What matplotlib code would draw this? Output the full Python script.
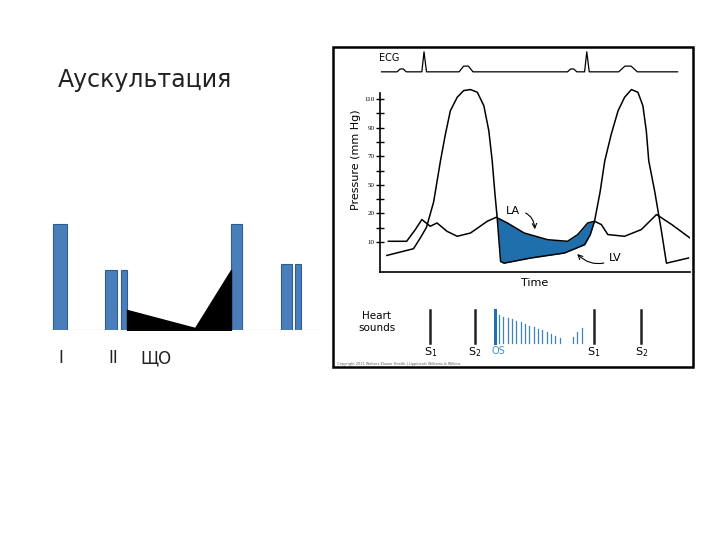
import numpy as np
import matplotlib
matplotlib.use("Agg")
import matplotlib.pyplot as plt
from matplotlib.patches import Rectangle

plt.rcParams['font.family'] = ['DejaVu Sans']

# ---- left schematic ----
bar_x = [60, 111, 124, 236.5, 286.5, 298]
bar_w = [14, 12, 6, 11, 11, 6]
bar_h = [106, 60, 60, 106, 66, 66]
murmur_x = [127, 195, 231]
murmur_h = [20, 2, 60]
left_labels = [(58, "I"), (108, "II"), (140, "ЩО")]

# ---- pressure curves (time 0..100, mmHg) ----
lv_t = [2.2, 10.8, 13, 15, 17.3, 19.5, 21.1, 22.7, 24.9, 27, 29.2, 31.4, 33.5, 35.1, 36.2, 37.0, 37.8, 38.9,
        40, 48.6, 59.5, 66, 67.8, 69.2, 71.0, 72.5, 74.6, 76.8, 78.9, 81.1, 83.2, 84.8, 85.9, 86.7, 88.6,
        90.8, 92.4, 99.5]
lv_p = [0.6, 5.3, 12.8, 20.3, 38, 66.7, 85.4, 101.8, 111.2, 115.9, 116.6, 114.7, 105.3, 87.8, 66.7, 45.6,
        26.9, -3.6, -4.8, -1.2, 2.3, 8.1, 15, 24.5, 45, 66.7, 85.4, 101.8, 111.2, 116.6, 114.7, 105.3, 87.8,
        66.7, 45.6, 17.5, -4.8, -1.2]
la_t = [2.7, 8.6, 11.4, 13.5, 16.2, 18.4, 21.6, 24.9, 29.2, 34.6, 37.5, 41.1, 46.5, 54.1, 60.5, 63.8, 67,
        69.2, 71.4, 73.5, 78.9, 84.3, 89.2, 94.1, 100]
la_p = [10.5, 10.5, 18.7, 25.7, 21, 23.3, 17.5, 14, 16.3, 24.5, 27.3, 23.3, 16.3, 11.6, 10.5, 15.2, 23.3,
        24.5, 22.2, 15.2, 14, 18.7, 29.2, 22.2, 12.8]
ecg_t = [0.5, 5.5, 6.5, 7.5, 8.5, 13.5, 14.2, 15, 25.5, 27, 28.5, 30, 60.5, 61.5, 62.5, 63.5, 66, 66.7, 67.5,
         77, 79, 81, 83, 96]
ecg_p = [129, 129, 131, 131, 129, 129, 143, 129, 129, 133, 133, 129, 129, 131, 131, 129, 129, 143, 129,
         129, 133, 133, 129, 129]
yticks = [10, 30, 50, 70, 90, 110]
ytick_labels = ["10", "20", "50", "70", "90", "110"]

# heart sounds
sound_t = [16.2, 30.5, 68.9, 84.3]
sound_lbl = ["S$_1$", "S$_2$", "S$_1$", "S$_2$"]
os_t = 37.0
murm_t = [38.4, 39.8, 41.2, 42.6, 44.0, 45.4, 46.8, 48.2, 49.6, 51.0, 52.4, 53.8, 55.2, 56.6, 58.0,
          62.3, 63.6, 65.0]
murm_h = [0.85, 0.8, 0.76, 0.72, 0.68, 0.63, 0.58, 0.53, 0.48, 0.43, 0.38, 0.32, 0.26, 0.2, 0.14,
          0.18, 0.32, 0.45]

fig = plt.figure(figsize=(7.2, 5.4), dpi=100)
ax0 = fig.add_axes([0, 0, 1, 1])
ax0.set_xlim(0, 720)
ax0.set_ylim(540, 0)
ax0.axis('off')
ax0.text(58, 80, "Аускультация", fontsize=17, va='center', ha='left', color='#222222')
for x, s in left_labels:
    ax0.text(x, 358, s, fontsize=12, va='center', ha='left', color='#222222')
ax0.add_patch(Rectangle((333, 47), 360, 320, fill=False, lw=1.8, ec='black'))
ax0.text(337, 364, "Copyright 2011 Wolters Kluwer Health | Lippincott Williams & Wilkins",
         fontsize=2.5, color='#555555', va='center')

# left chart axes: x pixels 47..322, baseline at y=330
axl = fig.add_axes([47/720, (540-330)/540, 275/720, 130/540])
axl.set_xlim(47, 322)
axl.set_ylim(0, 130)
axl.axis('off')
axl.bar(bar_x, bar_h, width=bar_w, color='#4a7ebb', edgecolor='#2f5d8f', lw=0.8)
axl.fill_between(murmur_x, 0, murmur_h, color='black')
axl.axhline(0, color='#999999', lw=0.8)

# pressure axes
bot_px, top_px = 272, 48
ax = fig.add_axes([380/720, (540-bot_px)/540, 310/720, (bot_px-top_px)/540])
def p_of(px):
    return 10 + (242 - px) / 1.43
ax.set_ylim(p_of(bot_px), p_of(top_px))
ax.set_xlim(0, 100)
ax.patch.set_alpha(0)
for s in ['top', 'right']:
    ax.spines[s].set_visible(False)
ax.spines['left'].set_bounds(p_of(bot_px), 114)
ax.spines['bottom'].set_bounds(0, 100)
ax.spines['left'].set_linewidth(1.2)
ax.spines['bottom'].set_linewidth(1.2)
ax.set_xticks([])
ax.set_yticks(yticks)
ax.set_yticklabels(ytick_labels, fontsize=5, family='Liberation Serif')
ax.set_yticks([20, 40, 60, 80, 100], minor=True)
ax.tick_params(axis='y', which='both', direction='inout', length=6, width=1, pad=1)

g = np.linspace(37.5, 69.2, 200)
ax.fill_between(g, np.interp(g, la_t, la_p), np.interp(g, lv_t, lv_p), color='#1f6fad', lw=0)
ax.plot(lv_t, lv_p, color='black', lw=1.1)
ax.plot(la_t, la_p, color='black', lw=1.1)
ax.plot(ecg_t, ecg_p, color='black', lw=0.9, clip_on=False)
ax.text(3, 139, "ECG", fontsize=7, ha='center', va='center')

ax.set_ylabel("Pressure (mm Hg)", fontsize=8, labelpad=2)
ax.text(50, p_of(283), "Time", fontsize=8, ha='center', va='center')
ax.annotate("LA", xy=(50, 17), xytext=(43, 32), fontsize=8, ha='center', va='center',
            arrowprops=dict(arrowstyle='->', connectionstyle='arc3,rad=-0.5', lw=0.8))
ax.annotate("LV", xy=(63, 3), xytext=(76, -1.5), fontsize=8, ha='center', va='center',
            arrowprops=dict(arrowstyle='->', connectionstyle='arc3,rad=-0.4', lw=0.8))

# heart sounds
y0, y1 = p_of(343), p_of(310)
ax.text(-1, p_of(322), "Heart\nsounds", fontsize=7.5, ha='center', va='center')
for t, l in zip(sound_t, sound_lbl):
    ax.plot([t, t], [y0, y1], color='#222222', lw=1.8, clip_on=False)
    ax.text(t, p_of(352), l, fontsize=8, ha='center', va='center')
ax.plot([os_t, os_t], [y0, y1], color='#1f6fad', lw=2.2, clip_on=False)
ax.text(os_t + 1.3, p_of(351), "OS", fontsize=7, ha='center', va='center', color='#4a8fc0')
for t, h in zip(murm_t, murm_h):
    ax.plot([t, t], [y0, y0 + h * (y1 - y0)], color='#3a86b8', lw=0.9, clip_on=False)

fig.savefig("out.png", dpi=100)
